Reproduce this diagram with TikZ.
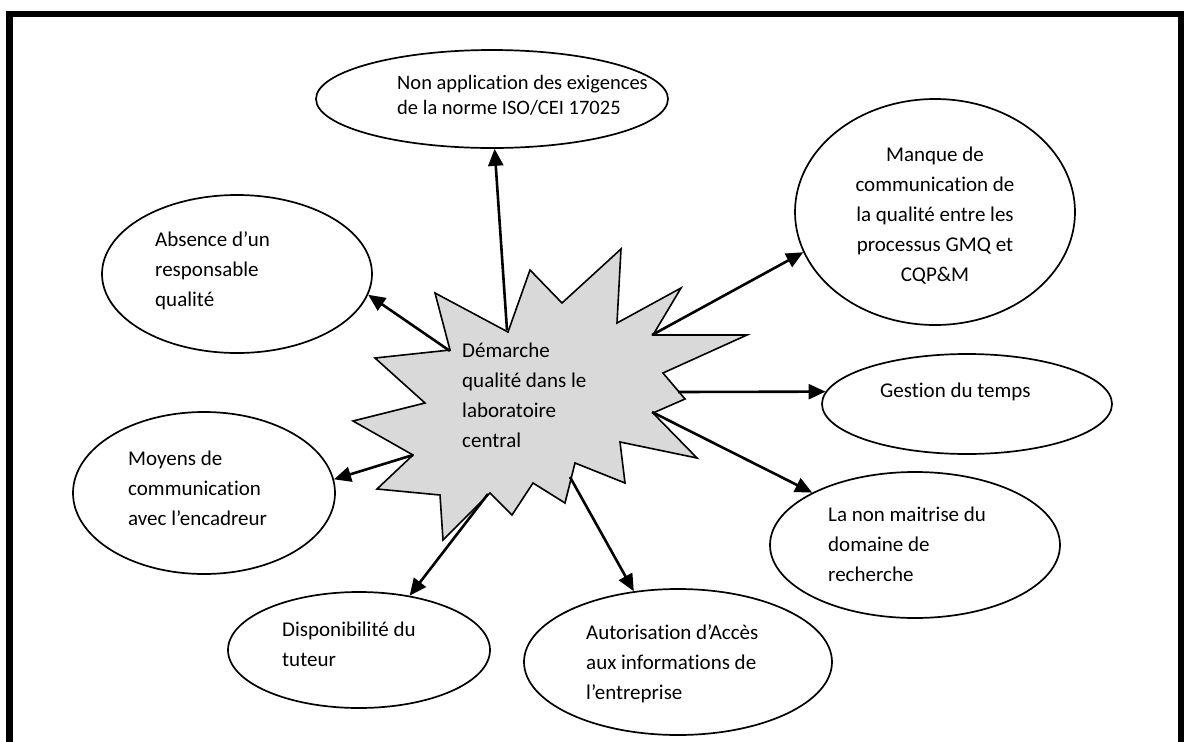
\documentclass[tikz,border=0pt]{standalone}
\usepackage{fontspec}
\setmainfont[Ligatures=NoCommon]{Carlito}
\usetikzlibrary{arrows.meta,shapes.geometric}
\definecolor{starfill}{HTML}{D9D9D9}
\begin{document}
\begin{tikzpicture}[x=1pt,y=-1pt,
  bubble/.style={ellipse, draw=black, line width=1.7pt, fill=white, inner sep=0pt},
  txt/.style={font=\fontsize{21}{30}\selectfont, align=left, inner sep=0pt, anchor=west},
  link/.style={line width=2.6pt, -{Triangle[length=17pt,width=15pt]}},
]
\useasboundingbox (0,0) rectangle (1184,742);

% outer frame (open at the bottom edge of the page)
\draw[line width=6.5pt] (9.5,742) -- (9.5,14) -- (1181,14) -- (1181,742);

% central burst
\draw[fill=starfill, line width=1.6pt]
  (435,293) -- (508,332) -- (530,270) -- (562,303) -- (621,249) -- (617,323)
  -- (681,288) -- (653,335) -- (747,335) -- (663,373) -- (685,399) -- (653,413)
  -- (697,458) -- (620,442) -- (625,483) -- (575,463) -- (565,503) -- (533,483)
  -- (512,515) -- (490,493) -- (443,540) -- (440,495) -- (377,489) -- (413,455)
  -- (353,421) -- (425,403) -- (375,358) -- (450,350) -- cycle;
\node[txt] (centre) at (462,395) {Démarche\\qualité dans le\\laboratoire\\central};

% surrounding factors
\node[bubble, minimum width=352pt, minimum height=98pt]  (norme)  at (492,99) {};
\node[bubble, minimum width=270pt, minimum height=158pt] (resp)   at (237,274) {};
\node[bubble, minimum width=262pt, minimum height=162pt] (moyens) at (204,493) {};
\node[bubble, minimum width=262pt, minimum height=116pt] (dispo)  at (359,650) {};
\node[bubble, minimum width=308pt, minimum height=146pt] (acces)  at (678,662) {};
\node[bubble, minimum width=290pt, minimum height=146pt] (maitr)  at (915,545) {};
\node[bubble, minimum width=290pt, minimum height=100pt] (temps)  at (967,404) {};
\node[bubble, minimum width=280pt, minimum height=226pt] (manque) at (935,212) {};

\node[txt, font=\fontsize{20.5}{25}\selectfont] (tnorme) at (397,95.5)
  {Non application des exigences\\de la norme ISO/CEI 17025};
\node[txt] (tresp)   at (155,271) {Absence d’un\\responsable\\qualité};
\node[txt] (tmoyens) at (128,488) {Moyens de\\communication\\avec l’encadreur};
\node[txt] (tdispo)  at (282,644) {Disponibilité du\\tuteur};
\node[txt] (tacces)  at (586,663.5) {Autorisation d’Accès\\aux informations de\\l’entreprise};
\node[txt] (tmaitr)  at (828,544) {La non maitrise du\\domaine de\\recherche};
\node[txt] (ttemps)  at (880,392) {Gestion du temps};
\node[txt, align=center, anchor=center] (tmanque) at (935,216)
  {Manque de\\communication de\\la qualité entre les\\processus GMQ et\\CQP\&M};

% arrow origins on the burst
\coordinate (s1) at (507,330);
\coordinate (s2) at (450,351);
\coordinate (s3) at (413,455);
\coordinate (s4) at (488,494);
\coordinate (s5) at (570,477);
\coordinate (s6) at (652,412);
\coordinate (s7) at (678,392);
\coordinate (s8) at (652,335);

\draw[link] (s1) -- (norme.-87.7);
\draw[link] (s2) -- (resp.-9.1);
\draw[link] (s3) -- (moyens.6.5);
\draw[link] (s4) -- (dispo.47.1);
\draw[link] (s5) -- (acces.122);
\draw[link] (s6) -- (maitr.153.9);
\draw[link] (s7) -- (temps.175.2);
\draw[link] (s8) -- (manque.197.9);
\end{tikzpicture}
\end{document}
